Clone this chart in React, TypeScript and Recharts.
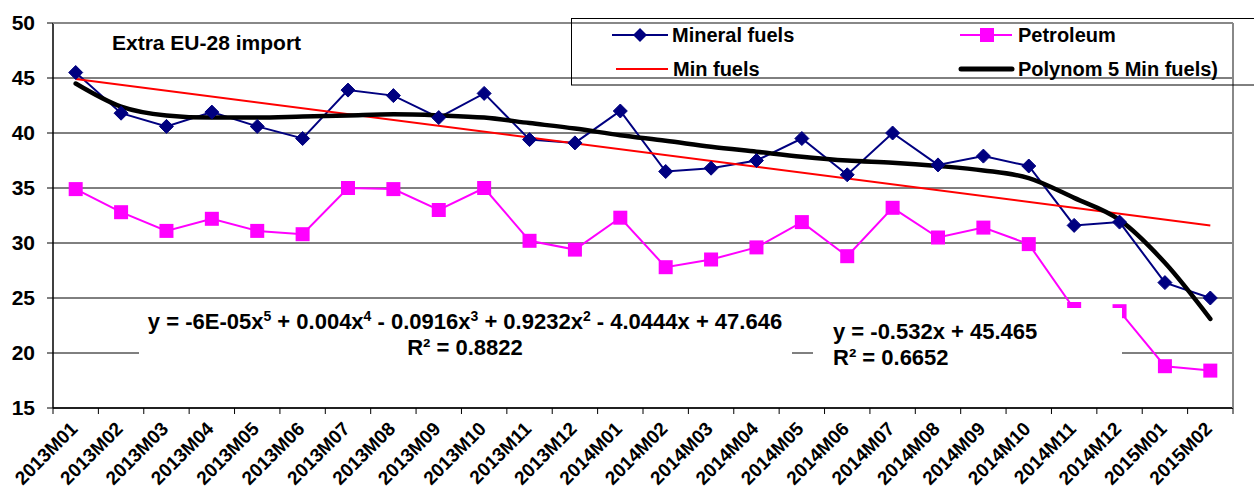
import { CartesianGrid, Line, LineChart, XAxis, YAxis } from 'recharts';

const months = [
  '2013M01', '2013M02', '2013M03', '2013M04', '2013M05', '2013M06', '2013M07', '2013M08', '2013M09',
  '2013M10', '2013M11', '2013M12', '2014M01', '2014M02', '2014M03', '2014M04', '2014M05', '2014M06',
  '2014M07', '2014M08', '2014M09', '2014M10', '2014M11', '2014M12', '2015M01', '2015M02',
];

const mineralFuels = [
  45.5, 41.8, 40.6, 41.9, 40.6, 39.5, 43.9, 43.4, 41.4, 43.6, 39.4, 39.1, 42.0,
  36.5, 36.8, 37.5, 39.5, 36.2, 40.0, 37.1, 37.9, 37.0, 31.6, 31.9, 26.4, 25.0,
];

const petroleum = [
  34.9, 32.8, 31.1, 32.2, 31.1, 30.8, 35.0, 34.9, 33.0, 35.0, 30.2, 29.4, 32.3,
  27.8, 28.5, 29.6, 31.9, 28.8, 33.2, 30.5, 31.4, 29.9, 24.0, 23.8, 18.8, 18.4,
];

const minFuelsLinear: (number | null)[] = [
  44.9, null, null, null, null, null, null, null, null, null, null, null, null,
  null, null, null, null, null, null, null, null, null, null, null, null, 31.6,
];

const minFuelsPoly = [
  44.5, 42.4, 41.6, 41.4, 41.4, 41.5, 41.6, 41.7, 41.6, 41.4, 40.9, 40.4, 39.8,
  39.3, 38.75, 38.3, 37.85, 37.5, 37.3, 37.0, 36.6, 35.9, 34.1, 32.1, 28.2, 23.1,
];

const yTicks = [15, 20, 25, 30, 35, 40, 45, 50];

const data = months.map((month, i) => ({
  month,
  mineral: mineralFuels[i],
  petroleum: petroleum[i],
  linear: minFuelsLinear[i],
  poly: minFuelsPoly[i],
}));

const W = 1254;
const H = 488;
const PLOT_LEFT = 53;
const PLOT_RIGHT = 1233;
const PLOT_TOP = 23;
const PLOT_BOTTOM = 408;
const BAND = (PLOT_RIGHT - PLOT_LEFT) / months.length;

const FONT = '"Liberation Sans", Arial, sans-serif';
const NAVY = '#000080';
const MAGENTA = '#FF00FF';

const DiamondDot = (props: any) => {
  const { cx, cy } = props;
  if (cx == null || cy == null) return null;
  const r = 7;
  return (
    <polygon
      points={`${cx},${cy - r} ${cx + r},${cy} ${cx},${cy + r} ${cx - r},${cy}`}
      fill={NAVY}
      stroke={NAVY}
    />
  );
};

const SquareDot = (props: any) => {
  const { cx, cy } = props;
  if (cx == null || cy == null) return null;
  const s = 14;
  return <rect x={cx - s / 2} y={cy - s / 2} width={s} height={s} fill={MAGENTA} />;
};

const XTick = (props: any) => {
  const { x, payload, index } = props;
  const left = x - BAND / 2;
  return (
    <g>
      <line x1={left} x2={left} y1={PLOT_BOTTOM} y2={PLOT_BOTTOM + 6} stroke="#000" />
      {index === months.length - 1 && (
        <line x1={x + BAND / 2} x2={x + BAND / 2} y1={PLOT_BOTTOM} y2={PLOT_BOTTOM + 6} stroke="#000" />
      )}
      <text
        transform={`translate(${x + 3},${430}) rotate(-45)`}
        textAnchor="end"
        fontFamily={FONT}
        fontWeight={700}
        fontSize={19}
        fill="#000"
      >
        {payload.value}
      </text>
    </g>
  );
};

const Sup = ({ children }: { children: string }) => (
  <tspan dy={-8} fontSize={14}>
    {children}
  </tspan>
);

export default function App() {
  return (
    <div style={{ position: 'absolute', left: 0, top: 0, width: W, height: H, background: '#fff' }}>
      <LineChart
        width={W}
        height={H}
        data={data}
        margin={{ top: PLOT_TOP, right: W - PLOT_RIGHT, left: 0, bottom: 0 }}
      >
        <CartesianGrid vertical={false} stroke="#000" strokeOpacity={1} />
        <XAxis
          dataKey="month"
          interval={0}
          height={H - PLOT_BOTTOM}
          padding={{ left: BAND / 2, right: BAND / 2 }}
          tickLine={false}
          tickSize={0}
          axisLine={{ stroke: '#000', strokeWidth: 1.5 }}
          tick={<XTick />}
        />
        <YAxis
          domain={[15, 50]}
          ticks={yTicks}
          width={PLOT_LEFT}
          tickSize={6}
          tickMargin={12}
          axisLine={{ stroke: '#000', strokeWidth: 1.5 }}
          tickLine={{ stroke: '#000' }}
          tick={{ fill: '#000', fontSize: 21, fontWeight: 700, fontFamily: FONT }}
        />
        <Line
          dataKey="mineral"
          stroke={NAVY}
          strokeWidth={2}
          dot={<DiamondDot />}
          isAnimationActive={false}
        />
        <Line
          dataKey="petroleum"
          stroke={MAGENTA}
          strokeWidth={2}
          dot={<SquareDot />}
          isAnimationActive={false}
        />
        <Line
          dataKey="linear"
          stroke="#FF0000"
          strokeWidth={2}
          dot={false}
          connectNulls
          isAnimationActive={false}
        />
        <Line
          dataKey="poly"
          type="monotone"
          stroke="#000"
          strokeWidth={4.5}
          strokeLinecap="round"
          dot={false}
          isAnimationActive={false}
        />
      </LineChart>

      <svg
        width={W}
        height={H}
        style={{ position: 'absolute', left: 0, top: 0, pointerEvents: 'none' }}
        fontFamily={FONT}
        fontWeight={700}
      >
        {/* plot frame, top and right */}
        <line x1={PLOT_LEFT} x2={PLOT_RIGHT} y1={PLOT_TOP} y2={PLOT_TOP} stroke="#888" strokeWidth={2} />
        <line x1={PLOT_RIGHT} x2={PLOT_RIGHT} y1={PLOT_TOP} y2={PLOT_BOTTOM} stroke="#888" strokeWidth={2} />

        {/* title */}
        <text x={112} y={50} fontSize={21}>Extra EU-28 import</text>

        {/* legend */}
        <rect x={571.5} y={18.5} width={720} height={66.5} fill="none" stroke="#000" />
        <line x1={612} x2={668} y1={35} y2={35} stroke={NAVY} strokeWidth={2} />
        <polygon points="640,28 647,35 640,42 633,35" fill={NAVY} />
        <text x={672} y={42} fontSize={20}>Mineral fuels</text>
        <line x1={960} x2={1012} y1={35} y2={35} stroke={MAGENTA} strokeWidth={2} />
        <rect x={980} y={28} width={14} height={14} fill={MAGENTA} />
        <text x={1018} y={42} fontSize={20}>Petroleum</text>
        <line x1={616} x2={668} y1={69} y2={69} stroke="#FF0000" strokeWidth={2} />
        <text x={673} y={76} fontSize={20}>Min fuels</text>
        <line x1={961} x2={1012} y1={69} y2={69} stroke="#000" strokeWidth={5} strokeLinecap="round" />
        <text x={1018} y={76} fontSize={20}>Polynom 5 Min fuels)</text>

        {/* polynomial trend label */}
        <rect x={139} y={306} width={653} height={56} fill="#fff" />
        <text x={465} y={329} fontSize={22} textAnchor="middle">
          <tspan>y = -6E-05x</tspan>
          <Sup>5</Sup>
          <tspan dy={8}> + 0.004x</tspan>
          <Sup>4</Sup>
          <tspan dy={8}> - 0.0916x</tspan>
          <Sup>3</Sup>
          <tspan dy={8}> + 0.9232x</tspan>
          <Sup>2</Sup>
          <tspan dy={8}> - 4.0444x + 47.646</tspan>
        </text>
        <text x={465} y={355} fontSize={22} textAnchor="middle">R² = 0.8822</text>

        {/* linear trend label */}
        <rect x={813} y={308} width={309} height={56} fill="#fff" />
        <text x={833} y={339} fontSize={22}>y = -0.532x + 45.465</text>
        <text x={833} y={365} fontSize={22}>R² = 0.6652</text>
      </svg>
    </div>
  );
}
